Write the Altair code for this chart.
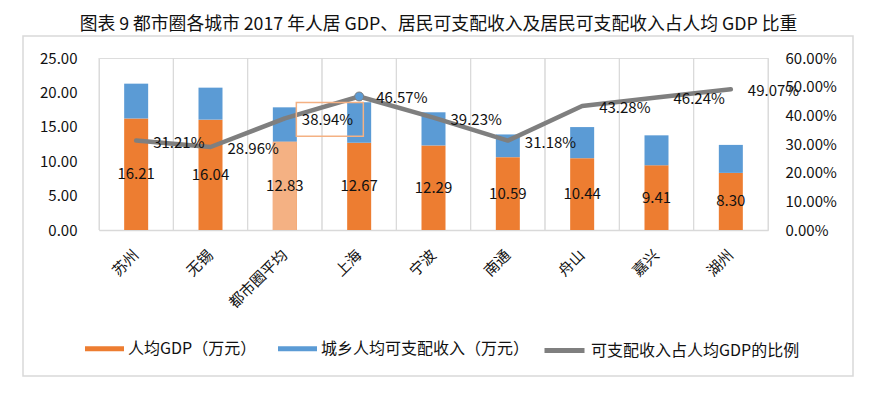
import altair as alt
import pandas as pd

# ---- data ----
cities = ["苏州", "无锡", "都市圈平均", "上海", "宁波", "南通", "舟山", "嘉兴", "湖州"]
gdp = [16.21, 16.04, 12.83, 12.67, 12.29, 10.59, 10.44, 9.41, 8.30]
income = [5.06, 4.65, 5.00, 5.90, 4.82, 3.30, 4.52, 4.35, 4.07]
ratio = [0.3121, 0.2896, 0.3894, 0.4657, 0.3923, 0.3118, 0.4328, 0.4624, 0.4907]
left_ticks = [0, 5, 10, 15, 20, 25]
right_ticks = [0, 0.1, 0.2, 0.3, 0.4, 0.5, 0.6]

S_GDP = "人均GDP（万元）"
S_INC = "城乡人均可支配收入（万元）"
S_RATIO = "可支配收入占人均GDP的比例"
TITLE = "图表 9 都市圈各城市 2017 年人居 GDP、居民可支配收入及居民可支配收入占人均 GDP 比重"

ORANGE = "#ED7D31"
BLUE = "#5B9BD5"
LIGHT = "#F4B183"
GRAY = "#7F7F7F"
GRID = "#D9D9D9"
INK = "#111111"
FONT = "Noto Sans CJK SC"

wide = pd.DataFrame({"city": cities, "gdp": gdp, "income": income, "ratio": ratio,
                     "series": [S_RATIO] * len(cities)})
long = pd.DataFrame({
    "city": cities * 2,
    "series": [S_GDP] * len(cities) + [S_INC] * len(cities),
    "value": gdp + income,
    "order": [0] * len(cities) + [1] * len(cities),
})
frame_df = pd.DataFrame({"k": [0]})

x_axis = alt.Axis(title=None, labelAngle=-45, labelAlign="right", labelBaseline="middle",
                  labelPadding=22, ticks=False, grid=False, domainColor=GRID, domainWidth=1.5,
                  labelFontSize=15, labelFont=FONT, labelColor=INK)
x_scale = alt.Scale(paddingInner=0, paddingOuter=0)
X = alt.X("city:N", sort=cities, scale=x_scale, axis=x_axis)

yl_axis = alt.Axis(title=None, values=left_ticks, format=".2f", grid=False, domain=False,
                   ticks=False, labelPadding=22, labelFontSize=15, labelFont=FONT, labelColor=INK)
yl_scale = alt.Scale(domain=[0, 25])

yr_axis = alt.Axis(title=None, orient="right", values=right_ticks, format=".2%", grid=False,
                   domain=False, ticks=False, labelPadding=17, labelFontSize=15, labelFont=FONT,
                   labelColor=INK)
yr_scale = alt.Scale(domain=[0, 0.6])

# outer chart frame (decoration)
frame = alt.Chart(frame_df).mark_rect(fill=None, stroke=GRID, strokeWidth=1.5).encode(
    x=alt.value(-76), x2=alt.value(754), y=alt.value(-22), y2=alt.value(318))

# vertical category separators
rules0 = alt.Chart(wide).mark_rule(color=GRID, strokeWidth=1).encode(
    x=alt.X("city:N", sort=cities, scale=x_scale, axis=x_axis, bandPosition=0))
rules1 = alt.Chart(wide).mark_rule(color=GRID, strokeWidth=1).encode(
    x=alt.X("city:N", sort=cities, scale=x_scale, axis=x_axis, bandPosition=1))

bars = alt.Chart(long).mark_bar(size=24).encode(
    x=X,
    y=alt.Y("value:Q", stack="zero", scale=yl_scale, axis=yl_axis),
    order=alt.Order("order:Q"),
    color=alt.Color("series:N",
                    scale=alt.Scale(domain=[S_GDP, S_INC], range=[ORANGE, BLUE]),
                    legend=alt.Legend(title=None, orient="none", legendX=-14, legendY=271,
                                      direction="horizontal",
                                      symbolType="M-1,-0.13H1V0.13H-1Z", symbolSize=1521,
                                      symbolStrokeWidth=0, labelFontSize=16, labelFont=FONT,
                                      labelColor=INK, labelOffset=4, columnPadding=21,
                                      labelLimit=400)),
)

avg_bar = alt.Chart(wide).transform_filter(alt.datum.city == "都市圈平均").mark_bar(
    size=24, color=LIGHT).encode(x=X, y=alt.Y("gdp:Q", scale=yl_scale, axis=yl_axis))

bar_text = alt.Chart(wide).transform_calculate(mid="datum.gdp / 2").mark_text(
    fontSize=15, font=FONT, color=INK).encode(
    x=X, y=alt.Y("mid:Q", scale=yl_scale, axis=yl_axis),
    text=alt.Text("gdp:Q", format=".2f"))

left = alt.layer(frame, rules0, rules1, bars, avg_bar, bar_text)

YR = alt.Y("ratio:Q", scale=yr_scale, axis=yr_axis)

line = alt.Chart(wide).mark_line(strokeWidth=4.5, strokeCap="round", strokeJoin="round").encode(
    x=X, y=YR,
    color=alt.Color("series:N",
                    scale=alt.Scale(domain=[S_RATIO], range=[GRAY]),
                    legend=alt.Legend(title=None, orient="none", legendX=443, legendY=270,
                                      symbolSize=1600, symbolStrokeWidth=5,
                                      labelFontSize=16, labelFont=FONT, labelColor=INK,
                                      labelOffset=4, labelLimit=400)),
)

marker = alt.Chart(wide).transform_filter(alt.datum.city == "上海").mark_point(
    filled=True, size=80, fill=BLUE, stroke=GRAY, strokeWidth=1, opacity=1).encode(x=X, y=YR)

box = alt.Chart(wide).transform_filter(alt.datum.city == "都市圈平均").mark_point(
    shape="M-1,-0.507H1V0.507H-1Z", size=4489, filled=False, stroke=LIGHT, strokeWidth=1.5,
    xOffset=45, yOffset=1, opacity=1).encode(x=X, y=YR)

line_text = alt.Chart(wide).mark_text(align="left", dx=17, dy=2, fontSize=15, font=FONT,
                                      color=INK).encode(
    x=X, y=YR, text=alt.Text("ratio:Q", format=".2%"))

right = alt.layer(line, marker, box, line_text)

chart = alt.layer(left, right).resolve_scale(y="independent", color="independent").properties(
    width=669, height=172,
    autosize=alt.AutoSizeParams(type="none"),
    padding={"left": 91, "top": 50, "right": 102, "bottom": 158},
    title=alt.TitleParams(text=TITLE, fontSize=17.8, font=FONT, fontWeight="normal", color=INK,
                          anchor="middle", frame="group", offset=14, dx=5, dy=13),
).configure_view(stroke=None).configure(background="white")

chart.save("out.html", embed_options={"renderer": "svg", "actions": False})
